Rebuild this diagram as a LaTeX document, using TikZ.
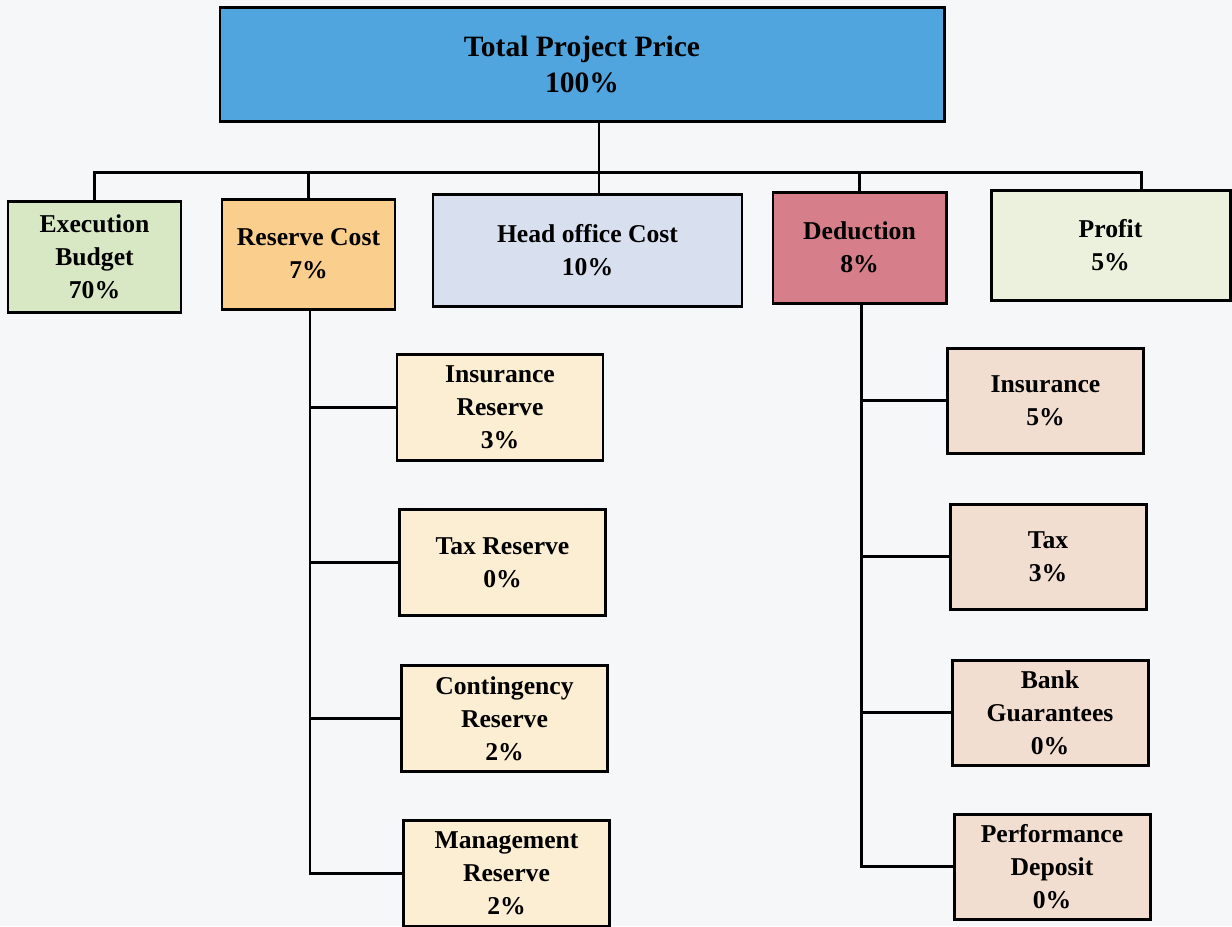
\documentclass[tikz,border=0pt]{standalone}
\usepackage{fontspec}
\setmainfont{Liberation Serif}
\usepackage{tikz}

\definecolor{topblue}{RGB}{80,165,222}
\definecolor{execgreen}{RGB}{216,232,196}
\definecolor{resorange}{RGB}{250,206,140}
\definecolor{headgray}{RGB}{216,224,240}
\definecolor{dedpink}{RGB}{214,126,138}
\definecolor{profitcream}{RGB}{236,241,222}
\definecolor{ressub}{RGB}{252,238,210}
\definecolor{dedsub}{RGB}{242,222,208}
\definecolor{paper}{RGB}{246,247,249}

\tikzset{
  box/.style={draw, line width=1.7pt, inner sep=0pt, align=center,
    font=\fontsize{14.6}{18.8}\selectfont\bfseries},
  link/.style={line width=1.7pt}
}

\begin{document}
\begin{tikzpicture}
\fill [paper] (0,0) rectangle (24.64,-18.52);
\useasboundingbox (0,0) rectangle (24.64,-18.52);
% top level
\node [box, fill=topblue, minimum width=14.48cm, minimum height=2.28cm, font=\fontsize{16.8}{20.5}\selectfont\bfseries] (total) at (11.64,-1.28) {Total Project Price\\100\%};
% second level
\node [box, fill=execgreen, minimum width=3.46cm, minimum height=2.22cm] (exec) at (1.89,-5.13) {Execution\\Budget\\70\%};
\node [box, fill=resorange, minimum width=3.46cm, minimum height=2.2cm] (resv) at (6.17,-5.08) {Reserve Cost\\7\%};
\node [box, fill=headgray, minimum width=6.18cm, minimum height=2.24cm] (head) at (11.75,-5.0) {Head office Cost\\10\%};
\node [box, fill=dedpink, minimum width=3.46cm, minimum height=2.22cm] (deduc) at (17.19,-4.95) {Deduction\\8\%};
\node [box, fill=profitcream, minimum width=4.78cm, minimum height=2.2cm] (profit) at (22.21,-4.9) {Profit\\5\%};
% reserve items
\node [box, fill=ressub, minimum width=4.12cm, minimum height=2.12cm] (insres) at (10.0,-8.14) {Insurance\\Reserve\\3\%};
\node [box, fill=ressub, minimum width=4.12cm, minimum height=2.12cm] (taxres) at (10.05,-11.25) {Tax Reserve\\0\%};
\node [box, fill=ressub, minimum width=4.12cm, minimum height=2.12cm] (contres) at (10.09,-14.37) {Contingency\\Reserve\\2\%};
\node [box, fill=ressub, minimum width=4.12cm, minimum height=2.12cm] (mgmtres) at (10.13,-17.46) {Management\\Reserve\\2\%};
% deduction items
\node [box, fill=dedsub, minimum width=3.92cm, minimum height=2.1cm] (insded) at (20.91,-8.01) {Insurance\\5\%};
\node [box, fill=dedsub, minimum width=3.92cm, minimum height=2.1cm] (taxded) at (20.96,-11.13) {Tax\\3\%};
\node [box, fill=dedsub, minimum width=3.92cm, minimum height=2.1cm] (bank) at (21.0,-14.25) {Bank\\Guarantees\\0\%};
\node [box, fill=dedsub, minimum width=3.92cm, minimum height=2.1cm] (perf) at (21.04,-17.33) {Performance\\Deposit\\0\%};
% bus
\coordinate (bus) at (11.98,-3.44);
\draw [link] ([xshift=0.34cm]total.south) -- ([xshift=0.34cm]total.south |- bus);
\draw [link] (exec.north) -- (exec.north |- bus) -- ([xshift=0.61cm]profit.north |- bus) -- ([xshift=0.61cm]profit.north);
\draw [link] (resv.north) -- (resv.north |- bus);
\draw [link] ([xshift=0.23cm]head.north) -- ([xshift=0.23cm]head.north |- bus);
\draw [link] (deduc.north) -- (deduc.north |- bus);
% spines
\coordinate (resspine) at ([xshift=0.03cm]resv.south);
\coordinate (dedspine) at ([xshift=0.03cm]deduc.south);
\draw [link] (resspine) |- (mgmtres.west);
\foreach \n in {insres,taxres,contres}
  \draw [link] (\n.west) -- (\n.west -| resspine);
\draw [link] (dedspine) |- (perf.west);
\foreach \n in {insded,taxded,bank}
  \draw [link] (\n.west) -- (\n.west -| dedspine);
\end{tikzpicture}
\end{document}
